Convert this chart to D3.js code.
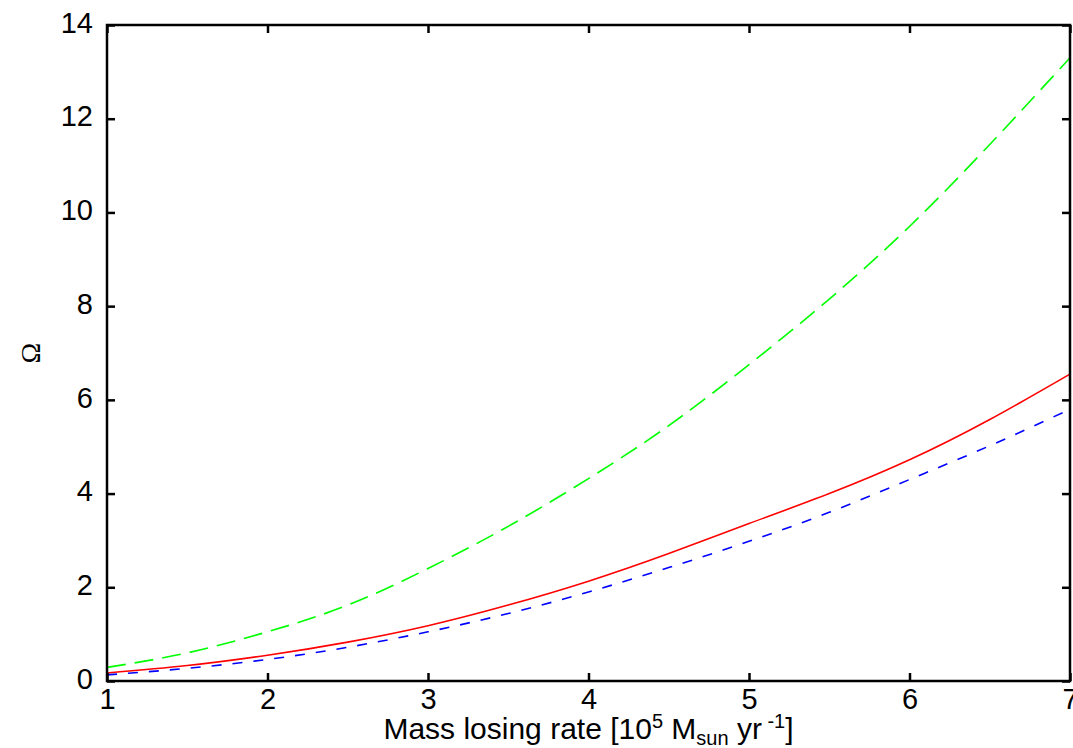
<!DOCTYPE html>
<html>
<head>
<meta charset="utf-8">
<script src="https://cdn.jsdelivr.net/npm/d3@7"></script>
<style>
  html, body { margin: 0; padding: 0; background: #fff; }
  svg { display: block; font-family: 'Liberation Sans', Arial, sans-serif; }
</style>
</head>
<body>
<div id="chart-container"></div>
<script>
const massRates = [1, 1.5, 2, 2.5, 3, 3.5, 4, 4.5, 5, 5.5, 6, 6.5, 7]
const omegaGreen = [0.29, 0.6, 1.05, 1.62, 2.4, 3.3, 4.32, 5.45, 6.75, 8.15, 9.7, 11.45, 13.3]
const omegaRed = [0.17, 0.33, 0.55, 0.83, 1.18, 1.62, 2.13, 2.72, 3.36, 4.0, 4.72, 5.58, 6.55]
const omegaBlue = [0.13, 0.27, 0.46, 0.72, 1.05, 1.44, 1.9, 2.42, 2.98, 3.6, 4.3, 5.02, 5.8]
const xTicks = [1, 2, 3, 4, 5, 6, 7]
const yTicks = [0, 2, 4, 6, 8, 10, 12, 14]

const chartWidth = 1073
const chartHeight = 748
const plot = { left: 107, right: 1070, top: 25, bottom: 681 }
const tickLength = 8

const series = [
  { values: omegaGreen, color: '#00ff00', dash: '19,9' },
  { values: omegaRed, color: '#ff0000', dash: null },
  { values: omegaBlue, color: '#0000ff', dash: '10,11' }
]

const svg = d3
  .select('#chart-container')
  .append('svg')
  .attr('width', chartWidth)
  .attr('height', chartHeight)

const xScale = d3.scaleLinear().domain([1, 7]).range([plot.left, plot.right])
const yScale = d3.scaleLinear().domain([0, 14]).range([plot.bottom, plot.top])

const line = d3
  .line()
  .x(d => xScale(d[0]))
  .y(d => yScale(d[1]))
  .curve(d3.curveNatural)

const drawCurves = () => {
  svg
    .append('g')
    .selectAll('path')
    .data(series)
    .enter()
    .append('path')
    .attr('d', s => line(massRates.map((x, i) => [x, s.values[i]])))
    .attr('fill', 'none')
    .attr('stroke', s => s.color)
    .attr('stroke-width', 1.6)
    .attr('stroke-dasharray', s => s.dash)
}

const drawAxes = () => {
  // inward ticks on all four sides, like the original plot
  const bottomAxis = d3.axisBottom(xScale).tickValues(xTicks).tickSize(-tickLength).tickFormat(d3.format('d'))
  const topAxis = d3.axisTop(xScale).tickValues(xTicks).tickSize(-tickLength).tickFormat('')
  const leftAxis = d3.axisLeft(yScale).tickValues(yTicks).tickSize(-tickLength).tickFormat(d3.format('d'))
  const rightAxis = d3.axisRight(yScale).tickValues(yTicks).tickSize(-tickLength).tickFormat('')

  const gx = svg.append('g').attr('transform', `translate(0,${plot.bottom})`).call(bottomAxis)
  svg.append('g').attr('transform', `translate(0,${plot.top})`).call(topAxis)
  const gy = svg.append('g').attr('transform', `translate(${plot.left},0)`).call(leftAxis)
  svg.append('g').attr('transform', `translate(${plot.right},0)`).call(rightAxis)

  svg.selectAll('.domain').remove()
  svg.selectAll('.tick line').attr('stroke', '#000').attr('stroke-width', 2.5)

  gx.selectAll('.tick text')
    .attr('y', 28)
    .attr('dy', null)
    .attr('font-size', 29)
    .attr('font-family', "'Liberation Sans', Arial, sans-serif")
    .attr('fill', '#000')

  gy.selectAll('.tick text')
    .attr('x', -14)
    .attr('dy', '0.25em')
    .attr('font-size', 29)
    .attr('font-family', "'Liberation Sans', Arial, sans-serif")
    .attr('fill', '#000')

  svg
    .append('rect')
    .attr('x', plot.left)
    .attr('y', plot.top)
    .attr('width', plot.right - plot.left)
    .attr('height', plot.bottom - plot.top)
    .attr('fill', 'none')
    .attr('stroke', '#000')
    .attr('stroke-width', 2.5)
}

const drawLabels = () => {
  const title = svg
    .append('text')
    .attr('x', (plot.left + plot.right) / 2)
    .attr('y', 739)
    .attr('text-anchor', 'middle')
    .attr('font-size', 30)

  title.append('tspan').text('Mass losing rate [10')
  title.append('tspan').attr('font-size', 20).attr('dy', -11).text('5')
  title.append('tspan').attr('dy', 11).text(' M')
  title.append('tspan').attr('font-size', 20).attr('dy', 6).text('sun')
  title.append('tspan').attr('dy', -6).text(' yr')
  title.append('tspan').attr('font-size', 20).attr('dy', -11).text(' -1')
  title.append('tspan').attr('dy', 11).text(']')

  svg
    .append('text')
    .attr('transform', `translate(40,${(plot.top + plot.bottom) / 2}) rotate(-90)`)
    .attr('text-anchor', 'middle')
    .attr('font-size', 28)
    .attr('font-family', "'Liberation Serif', 'Times New Roman', serif")
    .text('Ω')
}

drawCurves()
drawAxes()
drawLabels()
</script>
</body>
</html>
